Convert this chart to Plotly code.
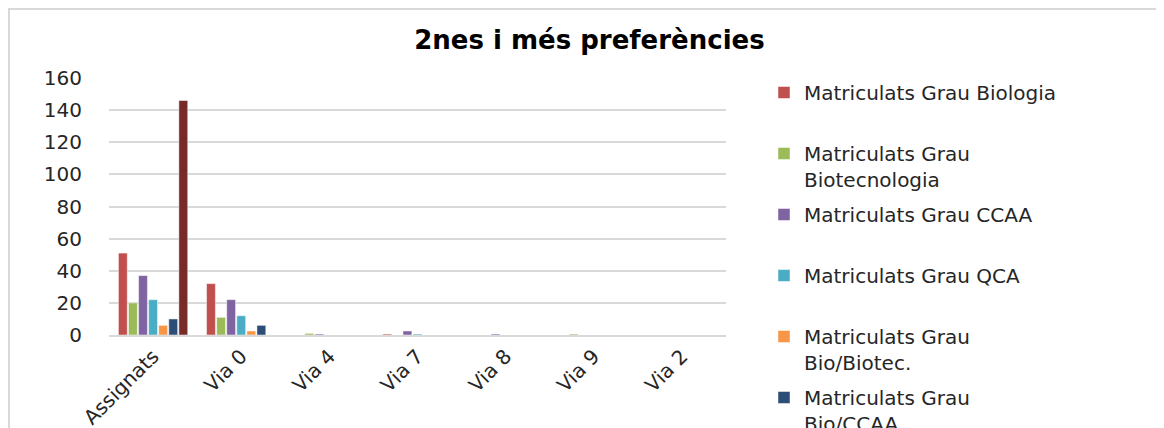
import plotly.graph_objects as go

categories = ["Assignats", "Via 0", "Via 4", "Via 7", "Via 8", "Via 9", "Via 2"]

series_names = [
    "Matriculats Grau Biologia",
    "Matriculats Grau<br>Biotecnologia",
    "Matriculats Grau CCAA",
    "Matriculats Grau QCA",
    "Matriculats Grau<br>Bio/Biotec.",
    "Matriculats Grau<br>Bio/CCAA",
    "Total",
]

biologia = [51, 32, 0, 0.6, 0, 0, 0]
biotecnologia = [20, 11, 1, 0, 0, 0.6, 0]
ccaa = [37, 22, 0.6, 2.5, 0.6, 0, 0]
qca = [22, 12, 0, 0.6, 0, 0, 0]
bio_biotec = [6, 2.5, 0, 0, 0, 0, 0]
bio_ccaa = [10, 6, 0, 0, 0, 0, 0]
total = [146, 0, 0, 0, 0, 0, 0]

series_values = [biologia, biotecnologia, ccaa, qca, bio_biotec, bio_ccaa, total]
colors = ["#C0504D", "#9BBB59", "#8064A2", "#4BACC6", "#F79646", "#2C4D75", "#772C2A"]
show_in_legend = [True, True, True, True, True, True, False]

FONT = "DejaVu Sans"

fig = go.Figure()
for i, (name, vals, col, sl) in enumerate(zip(series_names, series_values, colors, show_in_legend)):
    label = name if "<br>" in name else name + "<br> "
    fig.add_trace(go.Bar(
        x=categories, y=vals, name=label,
        marker=dict(color=col, line=dict(color="rgba(255,255,255,0.6)", width=0.8)),
        legendgroup=f"g{i}", showlegend=sl,
    ))

# page body has an 8px margin, so work in figure pixels
W, H = 1156, 420
L, R, T, B = 101, 438, 70, 93
pw, ph = W - L - R, H - T - B

def px_x(p):
    return (p - L) / pw

def px_y(p):
    return (H - B - p) / ph

fig.update_layout(
    width=W, height=H,
    margin=dict(l=L, r=R, t=T, b=B, autoexpand=False),
    paper_bgcolor="white", plot_bgcolor="white",
    barmode="group", bargap=0.2, bargroupgap=0.12,
    font=dict(family=FONT, color="#262626", size=20),
    title=dict(text="<b>2nes i més preferències</b>", x=0.503, xanchor="center",
               y=1 - 32 / H, yanchor="middle", yref="container",
               font=dict(family=FONT, size=26, color="#000000")),
    xaxis=dict(tickangle=-45, showgrid=False, showline=True, linecolor="#D9D9D9",
               linewidth=1.5, ticks="", tickfont=dict(size=20, color="#262626")),
    yaxis=dict(range=[0, 160], dtick=20, showgrid=True, gridcolor="#D9D9D9",
               gridwidth=1.5, zeroline=False, showline=False, ticks="",
               ticklabelstandoff=26, tickfont=dict(size=20, color="#262626")),
    legend=dict(x=px_x(756), xanchor="left", y=px_y(65), yanchor="top",
                font=dict(family=FONT, size=20, color="#262626"),
                valign="top", tracegroupgap=6, traceorder="grouped",
                maxheight=700, bgcolor="rgba(0,0,0,0)"),
    showlegend=True,
)

fig.add_shape(type="rect", xref="paper", yref="paper",
              x0=px_x(1), x1=px_x(1300), y0=px_y(600), y1=px_y(1),
              line=dict(color="#D9D9D9", width=2), fillcolor="rgba(0,0,0,0)", layer="below")

fig.write_html("out.html")
